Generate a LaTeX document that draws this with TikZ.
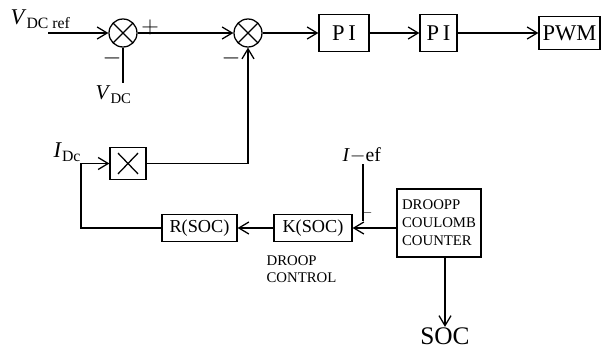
\documentclass[tikz,border=0pt]{standalone}
\usepackage{fontspec}
\setmainfont{Liberation Serif}
\usetikzlibrary{arrows.meta,calc}

\begin{document}
\begin{tikzpicture}[
    x=0.025cm, y=-0.025cm,
    line width=0.9pt,
    every node/.style={inner sep=0pt},
    sumnode/.style={draw, circle, minimum size=0.7cm,
      path picture={\draw (path picture bounding box.south west) -- (path picture bounding box.north east)
        (path picture bounding box.north west) -- (path picture bounding box.south east);}},
    blk/.style={draw, minimum height=0.925cm, font=\fontsize{16}{16}\selectfont},
    socblk/.style={draw, minimum height=0.68cm, font=\fontsize{13}{13}\selectfont},
    multblk/.style={draw, minimum width=0.9cm, minimum height=0.8cm,
      path picture={\draw ($(path picture bounding box.south west)+(0.2cm,0.14cm)$) -- ($(path picture bounding box.north east)+(-0.2cm,-0.14cm)$)
        ($(path picture bounding box.north west)+(0.2cm,-0.14cm)$) -- ($(path picture bounding box.south east)+(-0.2cm,0.14cm)$);}},
    sign/.style={font=\fontsize{18}{18}\selectfont},
    smalltxt/.style={align=left, font=\fontsize{10.5}{12}\selectfont},
    arr/.style={-{Straight Barb[length=2.5mm,width=3mm]}}
  ]
  \useasboundingbox (0,0) rectangle (604,353);

  % voltage loop
  \node[anchor=base west, font=\fontsize{16}{16}\selectfont] (vref) at (10,25) {\textit{V}\textsubscript{DC ref}};
  \coordinate (vin) at (48,33);
  \node[sumnode] (s1) at (123,33) {};
  \node[sumnode] (s2) at (248,33) {};
  \coordinate (vdcin) at (123,83);
  \node[anchor=base west, font=\fontsize{15}{15}\selectfont] (vdc) at (95,100) {\textit{V}\textsubscript{DC}};
  \node[sign] (plus) at (150,27) {$+$};
  \node[sign] (minA) at (112,58) {$-$};
  \node[sign] (minB) at (231,58) {$-$};

  \node[blk, minimum width=1.25cm] (pi1) at (344,33) {P\,I};
  \node[blk, minimum width=0.925cm] (pi2) at (438.5,33) {P\,I};
  \node[blk, minimum width=1.525cm, minimum height=0.825cm] (pwm) at (569.5,33) {PWM};

  \draw[arr] (vin) -- (s1);
  \draw (vdcin) -- (s1);
  \draw[arr] (s1) -- (s2);
  \draw[arr] (s2) -- (pi1);
  \draw[arr] (pi1) -- (pi2);
  \draw[arr] (pi2) -- (pwm);

  % droop loop
  \node[multblk] (mult) at (128,163.5) {};
  \node[anchor=base west, font=\fontsize{16}{16}\selectfont] (idc) at (53,158) {\textit{I}\textsubscript{Dc}};
  \coordinate (corner) at (81,163.5);
  \node[socblk, minimum width=1.875cm] (rsoc) at (199.5,228) {R(SOC)};
  \node[socblk, minimum width=1.95cm] (ksoc) at (313,228) {K(SOC)};
  \node[smalltxt, anchor=north west] (droopctl) at (266,255) {DROOP\\CONTROL};
  \node[draw, minimum width=2.1cm, minimum height=1.7cm, align=left,
    font=\fontsize{10.5}{12.8}\selectfont] (droop) at (439,223) {DROOPP\\COULOMB\\COUNTER};
  \node[anchor=base west, font=\fontsize{14}{14}\selectfont] (iref) at (342,162) {\textit{I}$-$ef};
  \coordinate (ijoin) at (363,221);
  \node[font=\fontsize{10}{10}\selectfont] (minC) at (367,213) {$-$};
  \node[font=\fontsize{18}{18}\selectfont] (soc) at (445,336) {SOC};

  \draw[arr] (mult) -| (s2);
  \draw[arr] (droop.west |- ksoc) -- (ksoc);
  \draw (iref.south -| ijoin) -- (ijoin);
  \draw[arr] (ksoc) -- (rsoc);
  \draw[arr] (rsoc) -| (corner) -- (mult);
  \draw[arr] (droop.south -| soc) -- (soc);
\end{tikzpicture}
\end{document}
